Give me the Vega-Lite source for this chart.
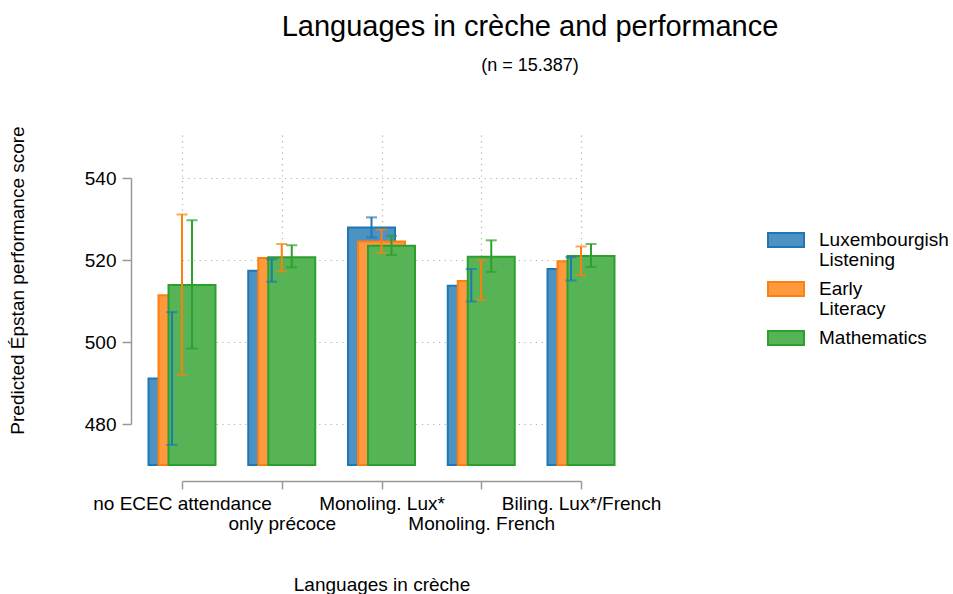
{
  "$schema": "https://vega.github.io/schema/vega-lite/v6.json",
  "width": 498,
  "height": 395,
  "autosize": {"type": "none"},
  "padding": {"left": 134, "top": 82, "right": 321, "bottom": 117},
  "background": "white",
  "config": {
    "font": "Liberation Sans",
    "view": {"stroke": null},
    "axis": {
      "domainColor": "#999999",
      "tickColor": "#999999",
      "domainWidth": 1.5,
      "tickWidth": 1.5,
      "labelFontSize": 19,
      "labelColor": "#000000",
      "titleFontSize": 19,
      "titleFontWeight": "normal",
      "titleColor": "#000000",
      "grid": true,
      "gridDash": [1.2, 4.5],
      "gridColor": "#b0b0b0",
      "gridWidth": 1.2,
      "labelLimit": 0
    }
  },
  "title": {
    "text": "Languages in crèche and performance",
    "subtitle": "(n = 15.387)",
    "anchor": "middle",
    "frame": "group",
    "dx": 147,
    "fontSize": 29,
    "fontWeight": "normal",
    "subtitleFontSize": 18,
    "color": "#000000",
    "subtitleColor": "#000000",
    "offset": 7,
    "subtitlePadding": 15
  },
  "data": {
    "values": [
      {"creche": "no ECEC attendance", "outcome": "Luxembourgish Listening", "value": 491.1, "lo": 474.9, "hi": 507.3},
      {"creche": "only précoce", "outcome": "Luxembourgish Listening", "value": 517.4, "lo": 514.7, "hi": 520.2},
      {"creche": "Monoling. Lux*", "outcome": "Luxembourgish Listening", "value": 527.9, "lo": 525.5, "hi": 530.4},
      {"creche": "Monoling. French", "outcome": "Luxembourgish Listening", "value": 513.7, "lo": 509.9, "hi": 517.8},
      {"creche": "Biling. Lux*/French", "outcome": "Luxembourgish Listening", "value": 517.8, "lo": 515.0, "hi": 520.7},
      {"creche": "no ECEC attendance", "outcome": "Early Literacy", "value": 511.4, "lo": 492.0, "hi": 531.1},
      {"creche": "only précoce", "outcome": "Early Literacy", "value": 520.5, "lo": 517.2, "hi": 523.9},
      {"creche": "Monoling. Lux*", "outcome": "Early Literacy", "value": 524.5, "lo": 521.7, "hi": 527.4},
      {"creche": "Monoling. French", "outcome": "Early Literacy", "value": 514.9, "lo": 510.3, "hi": 519.9},
      {"creche": "Biling. Lux*/French", "outcome": "Early Literacy", "value": 519.7, "lo": 516.3, "hi": 523.3},
      {"creche": "no ECEC attendance", "outcome": "Mathematics", "value": 513.9, "lo": 498.4, "hi": 529.7},
      {"creche": "only précoce", "outcome": "Mathematics", "value": 520.7, "lo": 518.2, "hi": 523.6},
      {"creche": "Monoling. Lux*", "outcome": "Mathematics", "value": 523.5, "lo": 521.2, "hi": 525.9},
      {"creche": "Monoling. French", "outcome": "Mathematics", "value": 520.8, "lo": 517.1, "hi": 524.8},
      {"creche": "Biling. Lux*/French", "outcome": "Mathematics", "value": 521.0, "lo": 518.3, "hi": 523.9}
    ]
  },
  "encoding": {
    "x": {
      "field": "creche",
      "type": "nominal",
      "sort": ["no ECEC attendance", "only précoce", "Monoling. Lux*", "Monoling. French", "Biling. Lux*/French"],
      "scale": {"type": "point", "range": [48, 447], "padding": 0},
      "title": "Languages in crèche",
      "axis": {
        "offset": 4,
        "tickSize": 8,
        "labelPadding": 5,
        "labelAngle": 0,
        "labelLineHeight": 20,
        "labelOverlap": false,
        "labelExpr": "indexof(['only précoce', 'Monoling. French'], datum.label) >= 0 ? ['', datum.label] : datum.label",
        "titlePadding": 42
      }
    },
    "xOffset": {
      "field": "outcome",
      "type": "nominal",
      "sort": ["Luxembourgish Listening", "Early Literacy", "Mathematics"],
      "scale": {"type": "point", "range": [-10, 10], "padding": 0}
    }
  },
  "layer": [
    {
      "mark": {"type": "bar", "width": 47, "strokeWidth": 2},
      "encoding": {
        "y": {
          "field": "value",
          "type": "quantitative",
          "title": "Predicted Épstan performance score",
          "scale": {"domain": [480, 540], "range": [342, 96], "nice": false, "zero": false},
          "axis": {"values": [480, 500, 520, 540], "offset": 3, "tickSize": 9, "labelPadding": 6, "titlePadding": 57, "titleY": 198}
        },
        "y2": {"datum": 470},
        "fill": {
          "field": "outcome",
          "type": "nominal",
          "scale": {"domain": ["Luxembourgish Listening", "Early Literacy", "Mathematics"], "range": ["#4c92c3", "#ff993e", "#56b356"]},
          "legend": {
            "title": null, "orient": "none", "legendX": 633, "legendY": 139, "padding": 0,
            "symbolType": "M-1,-0.39H1V0.39H-1Z", "symbolSize": 1296, "symbolStrokeWidth": 2,
            "labelFontSize": 19, "labelColor": "#000000", "labelOffset": 14, "labelLimit": 0, "rowPadding": 0,
            "labelExpr": "datum.label == 'Luxembourgish Listening' ? ['Luxembourgish', 'Listening'] : datum.label == 'Early Literacy' ? ['Early', 'Literacy'] : datum.label",
            "encode": {"labels": {"update": {"lineHeight": {"value": 20}}}}
          }
        },
        "stroke": {
          "field": "outcome",
          "type": "nominal",
          "scale": {"domain": ["Luxembourgish Listening", "Early Literacy", "Mathematics"], "range": ["#1f77b4", "#ff7f0e", "#2ca02c"]},
          "legend": {
            "title": null, "orient": "none", "legendX": 633, "legendY": 139, "padding": 0,
            "symbolType": "M-1,-0.39H1V0.39H-1Z", "symbolSize": 1296, "symbolStrokeWidth": 2,
            "labelFontSize": 19, "labelColor": "#000000", "labelOffset": 14, "labelLimit": 0, "rowPadding": 0,
            "labelExpr": "datum.label == 'Luxembourgish Listening' ? ['Luxembourgish', 'Listening'] : datum.label == 'Early Literacy' ? ['Early', 'Literacy'] : datum.label",
            "encode": {"labels": {"update": {"lineHeight": {"value": 20}}}}
          }
        }
      }
    },
    {
      "mark": {"type": "rule", "strokeWidth": 2},
      "encoding": {
        "y": {"field": "lo", "type": "quantitative", "title": "Predicted Épstan performance score"},
        "y2": {"field": "hi"},
        "color": {
          "field": "outcome",
          "type": "nominal",
          "scale": {"domain": ["Luxembourgish Listening", "Early Literacy", "Mathematics"], "range": ["#1f77b4", "#ff7f0e", "#2ca02c"]},
          "legend": null
        }
      }
    },
    {
      "mark": {"type": "tick", "size": 11, "thickness": 2},
      "encoding": {
        "y": {"field": "lo", "type": "quantitative", "title": "Predicted Épstan performance score"},
        "color": {"field": "outcome", "type": "nominal", "legend": null}
      }
    },
    {
      "mark": {"type": "tick", "size": 11, "thickness": 2},
      "encoding": {
        "y": {"field": "hi", "type": "quantitative", "title": "Predicted Épstan performance score"},
        "color": {"field": "outcome", "type": "nominal", "legend": null}
      }
    }
  ]
}
